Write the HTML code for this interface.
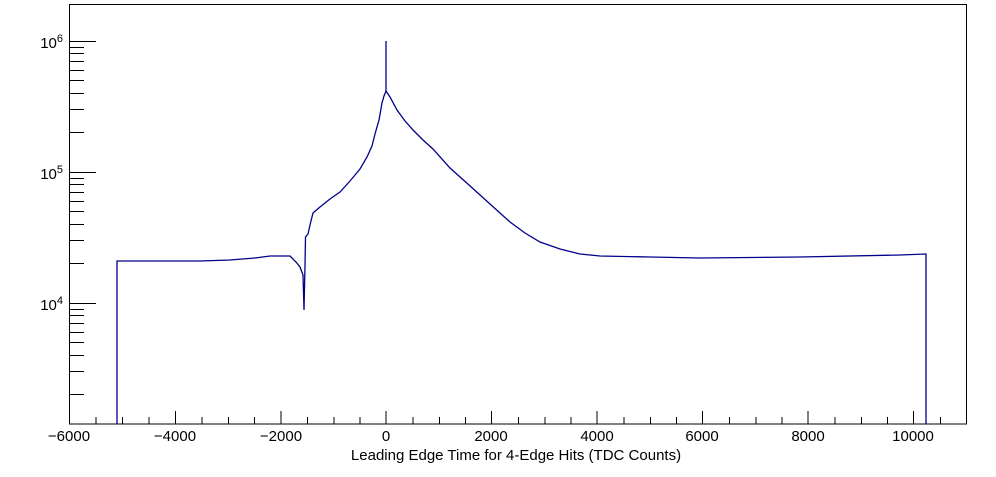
<!DOCTYPE html><html><head><style>body{margin:0;background:#fff}svg text{font-family:"Liberation Sans",sans-serif;fill:#000}</style></head><body>
<svg width="996" height="472" xmlns="http://www.w3.org/2000/svg">
<rect x="69.5" y="4.5" width="897" height="419.5" fill="none" stroke="#000" stroke-width="1"/>
<g stroke="#000" stroke-width="1">
<path d="M69,41.5h27M69,172.5h27M69,303.5h27"/>
<path id="mn" d="M69,47.5h15M69,53.5h15M69,61.5h15M69,70.5h15M69,80.5h15M69,93.5h15M69,109.5h15M69,132.5h15"/>
<use href="#mn" y="131"/><use href="#mn" y="262"/>
<path d="M175.5,424v-13M281,424v-13M386,424v-13M491.5,424v-13M597,424v-13M702.5,424v-13M808,424v-13M913.5,424v-13"/>
<path d="M96,424v-7M122.5,424v-7M149,424v-7M202,424v-7M228.5,424v-7M254.5,424v-7M307.5,424v-7M334,424v-7M360,424v-7M413,424v-7M439.5,424v-7M465.5,424v-7M518.5,424v-7M545,424v-7M571,424v-7M624,424v-7M650.5,424v-7M676.5,424v-7M729.5,424v-7M756,424v-7M782,424v-7M835,424v-7M861.5,424v-7M887.5,424v-7M940.5,424v-7"/>
</g>
<g font-size="15" text-anchor="end">
<text x="63" y="48">10<tspan dy="-6" font-size="11">6</tspan></text>
<text x="63" y="179">10<tspan dy="-6" font-size="11">5</tspan></text>
<text x="63" y="310">10<tspan dy="-6" font-size="11">4</tspan></text>
</g>
<g font-size="15" text-anchor="middle">
<text x="69" y="441">−6000</text><text x="175" y="441">−4000</text><text x="281" y="441">−2000</text><text x="386" y="441">0</text><text x="491" y="441">2000</text><text x="597" y="441">4000</text><text x="702" y="441">6000</text><text x="808" y="441">8000</text><text x="913" y="441">10000</text>
<text x="516" y="460">Leading Edge Time for 4-Edge Hits (TDC Counts)</text>
</g>
<polyline fill="none" stroke="#00008b" stroke-width="1.3" points="117,424 117,261 160,261 200,261 230,260 255,258 270,256 290,256 296,262 300,267 303,275 304,310 305,266 305.5,237 308,234 310,225 313,213 320,207 330,199 340,192 350,181 360,169 367,157 372,146 375,134 379,120 382,103 384,96 386,91 386,41 386,91 390,97 397,110 405,121 413,130 423,140 433,149 450,168 469,185 490,204 510,222 525,233 540,242 560,249 580,254 600,256 650,257 700,258 800,257 900,255 926,254 926,424"/>
</svg></body></html>
